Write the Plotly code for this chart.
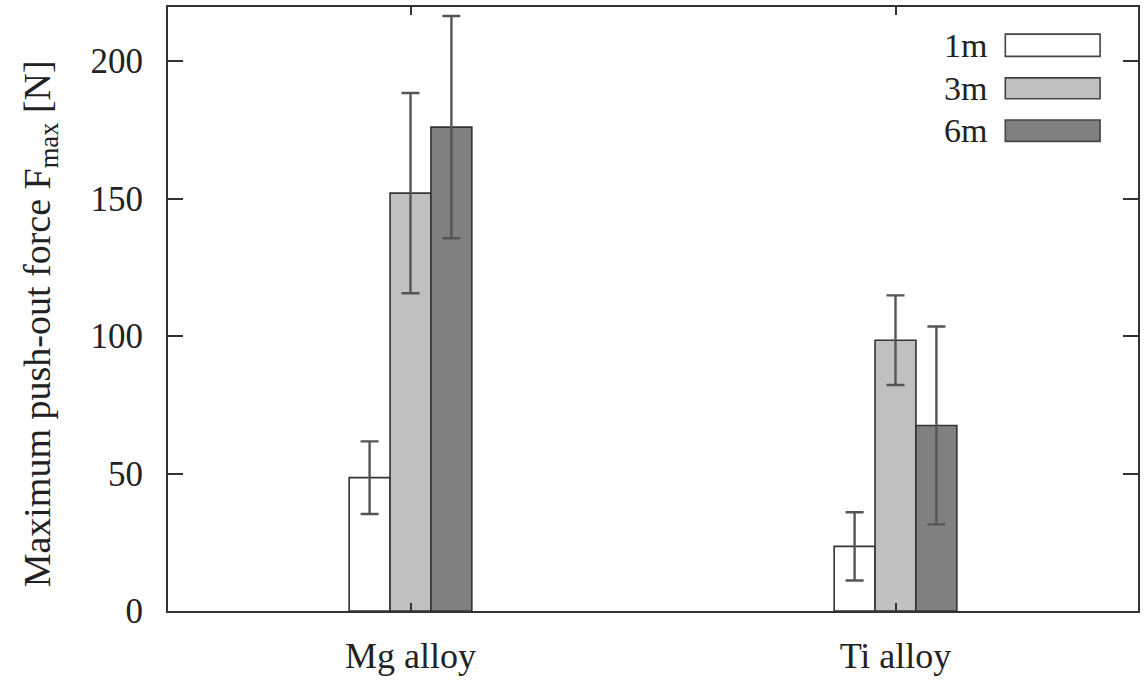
import plotly.graph_objects as go

categories = ["Mg alloy", "Ti alloy"]
series_names = ["1m", "3m", "6m"]
values_1m = [48.5, 23.5]
values_3m = [152.0, 98.5]
values_6m = [176.0, 67.5]
err_1m = [13.2, 12.4]
err_3m = [36.4, 16.3]
err_6m = [40.4, 36.0]
colors = ["#ffffff", "#c0c0c0", "#808080"]
y_ticks = [0, 50, 100, 150, 200]
y_title = "Maximum push-out force F<sub>max</sub> [N]"

FONT = "Liberation Serif, Times New Roman, Times, serif"
fig = go.Figure()
for name, vals, errs, col in zip(series_names, [values_1m, values_3m, values_6m],
                                 [err_1m, err_3m, err_6m], colors):
    fig.add_trace(go.Bar(
        x=categories, y=vals, name=name, showlegend=False,
        marker=dict(color=col, line=dict(color="#333333", width=1.6)),
        error_y=dict(type="data", array=errs, visible=True,
                     color="#555555", thickness=2.4, width=9),
    ))

# legend (text left, swatch right) drawn in paper coordinates
leg_rows = [(0.9551, 0.9183, 0.9367), (0.8827, 0.8482, 0.8655), (0.8130, 0.7776, 0.7952)]
for (y1, y0, yc), name, col in zip(leg_rows, series_names, colors):
    fig.add_shape(type="rect", xref="paper", yref="paper", x0=0.8632, x1=0.9609,
                  y0=y0, y1=y1, fillcolor=col, line=dict(color="#444444", width=1.6))
    fig.add_annotation(xref="paper", yref="paper", x=0.8465, y=yc, text=name,
                       showarrow=False, xanchor="right", yanchor="middle",
                       font=dict(family=FONT, size=34, color="#222222"))

# y-axis title placed like the reference (slightly below plot-area centre)
fig.add_annotation(xref="paper", yref="paper", x=-0.1317, y=0.475, text=y_title,
                   textangle=-90, showarrow=False, xanchor="center", yanchor="middle",
                   font=dict(family=FONT, size=38, color="#222222"))

fig.update_layout(
    width=1144, height=680,
    margin=dict(l=168, r=4, t=7, b=65),
    paper_bgcolor="white", plot_bgcolor="white",
    barmode="group", bargap=0.747, bargroupgap=0,
    font=dict(family=FONT, size=35, color="#222222"),
)
fig.update_xaxes(
    range=[-0.5, 1.5], showline=True, linecolor="#333333", linewidth=2.2, mirror="ticks",
    ticks="inside", ticklen=8, tickcolor="#333333", tickwidth=1.5,
    tickfont=dict(family=FONT, size=36), ticklabelstandoff=12, showgrid=False,
)
fig.update_yaxes(
    range=[0, 219.7], tickvals=y_ticks, showline=True, linecolor="#333333", linewidth=2.2,
    mirror="ticks", ticks="inside", ticklen=15, tickcolor="#333333", tickwidth=1.5,
    tickfont=dict(family=FONT, size=35), ticklabelstandoff=16, showgrid=False, zeroline=False,
)
fig.write_html("out.html", config={"displayModeBar": False},
               post_script="document.body.style.margin='0';")
